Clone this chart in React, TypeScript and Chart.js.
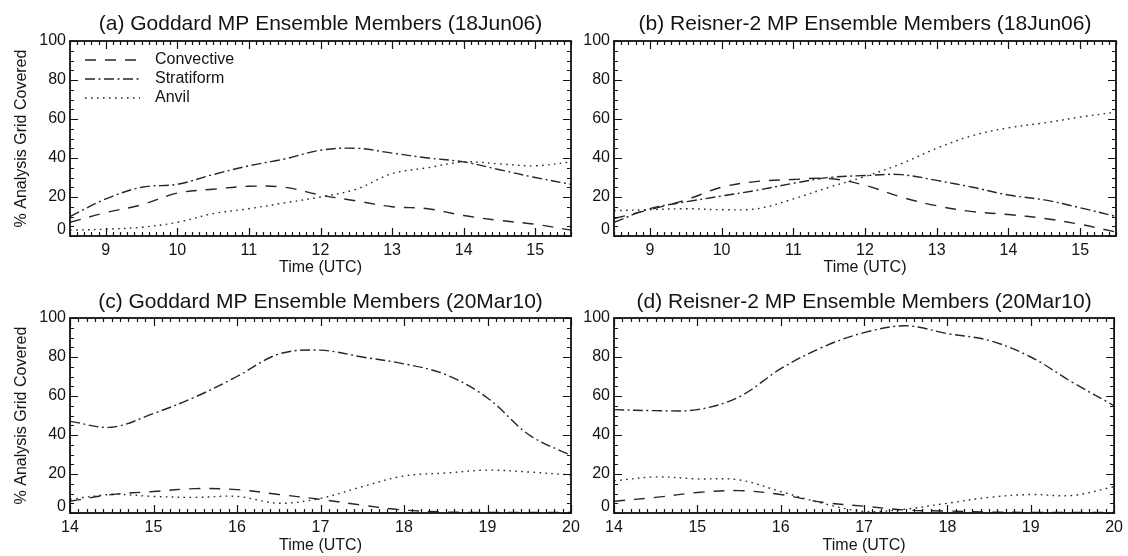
import React, { useEffect, useRef } from 'react';
import { Chart, registerables } from 'chart.js';

Chart.register(...registerables);

// ---------------- data ----------------
const HOURS_18JUN = [8.5, 9, 9.5, 10, 10.5, 11, 11.5, 12, 12.5, 13, 13.5, 14, 14.5, 15, 15.5];
const HOURS_20MAR = [14, 14.5, 15, 15.5, 16, 16.5, 17, 17.5, 18, 18.5, 19, 19.5, 20];

const X_TICKS_18JUN = [9, 10, 11, 12, 13, 14, 15];
const X_TICKS_20MAR = [14, 15, 16, 17, 18, 19, 20];
const Y_TICKS = [0, 20, 40, 60, 80, 100];

const SERIES_NAMES = ['Convective', 'Stratiform', 'Anvil'];

const A_CONVECTIVE = [7, 12, 16, 22, 24, 25.5, 25, 21, 18, 15, 14, 10.5, 8, 6, 3];
const A_STRATIFORM = [10, 19, 25, 26.5, 31.5, 36, 39.5, 44, 45, 42.5, 40, 38, 34, 30, 26.5];
const A_ANVIL = [3, 3.5, 4.5, 7, 11.5, 14, 17, 20, 24, 32, 35, 38, 37, 36, 38];

const B_CONVECTIVE = [9, 13.5, 18.5, 25, 28, 29, 29.5, 26, 20, 15.5, 12.5, 11, 9, 6, 2];
const B_STRATIFORM = [7, 14, 17.5, 20.5, 23.5, 27, 30, 31, 31.5, 28.5, 25, 21, 18.5, 14.5, 10];
const B_ANVIL = [13, 13.5, 14, 13.5, 14, 19, 25, 30.5, 37, 45, 51.5, 55.5, 58, 61, 63.5];

const C_CONVECTIVE = [6, 9.5, 11, 12.5, 12, 9.5, 7, 4, 1.5, 0.5, 0.3, 0.3, 0.3];
const C_STRATIFORM = [47, 44, 51, 59.5, 70, 81.5, 83.5, 80, 76.5, 71, 59, 40, 29.5];
const C_ANVIL = [7, 9.5, 8.5, 8, 8.5, 5, 7.5, 13.5, 19, 20.5, 22, 21, 19.5];

const D_CONVECTIVE = [6, 8, 10.5, 11.5, 9.5, 5.5, 3.5, 1.5, 1, 0.5, 0.3, 0.3, 0.3];
const D_STRATIFORM = [53, 52.5, 53, 59.5, 74, 85, 92.5, 96, 92, 88.5, 80, 67, 55];
const D_ANVIL = [16.5, 18.5, 17.5, 17, 11, 5, 0.8, 2, 5, 8, 9.5, 9, 13.5];

const TITLE_A = '(a) Goddard MP Ensemble Members (18Jun06)';
const TITLE_B = '(b) Reisner-2 MP Ensemble Members (18Jun06)';
const TITLE_C = '(c) Goddard MP Ensemble Members (20Mar10)';
const TITLE_D = '(d) Reisner-2 MP Ensemble Members (20Mar10)';
const X_TITLE = 'Time (UTC)';
const Y_TITLE = '% Analysis Grid Covered';

// ---------------- style ----------------
const FONT = "'Liberation Sans', Arial, Helvetica, sans-serif";
const TEXT = '#141414';
const LINE = '#262626';
const DASHES = [[11, 9], [10, 3.5, 2, 3.5], [1.6, 4.4]];
const ZERO_LABEL_LIFT = 3.3; // the "0" label sits a little above its tick in the original
const TITLE_SIZE = 21;
const TITLE_LINE = 1.2;

Chart.defaults.font.family = FONT;
Chart.defaults.color = TEXT;

const framePlugin = {
  id: 'idlFrame',
  afterDatasetsDraw(chart: any, _args: any, opts: any) {
    const { ctx, chartArea: a, scales } = chart;
    const x = scales.x;
    const y = scales.y;
    ctx.save();
    ctx.strokeStyle = '#111';
    ctx.lineWidth = 1.8;
    ctx.setLineDash([]);
    ctx.strokeRect(a.left, a.top, a.right - a.left, a.bottom - a.top);
    ctx.lineWidth = 1.2;
    // x ticks (major each hour, minor each 0.1 h) on bottom and top
    const nx = Math.round((x.max - x.min) * 10);
    for (let i = 0; i <= nx; i++) {
      const v = Math.round(x.min * 10 + i) / 10;
      const major = Math.abs(v - Math.round(v)) < 1e-6;
      const len = major ? 8 : 4;
      const px = Math.round(x.getPixelForValue(v)) + 0.5;
      ctx.beginPath();
      ctx.moveTo(px, a.bottom);
      ctx.lineTo(px, a.bottom - len);
      ctx.moveTo(px, a.top);
      ctx.lineTo(px, a.top + len);
      ctx.stroke();
    }
    // y ticks (major every 20, minor every 5) on left and right
    for (let v = 0; v <= 100; v += 5) {
      const major = v % 20 === 0;
      const len = major ? 8 : 4;
      const py = Math.round(y.getPixelForValue(v)) + 0.5;
      ctx.beginPath();
      ctx.moveTo(a.left, py);
      ctx.lineTo(a.left + len, py);
      ctx.moveTo(a.right, py);
      ctx.lineTo(a.right - len, py);
      ctx.stroke();
    }
    // legend
    if (opts && opts.legend) {
      ctx.font = `16px ${FONT}`;
      ctx.textBaseline = 'middle';
      ctx.textAlign = 'left';
      chart.data.datasets.forEach((ds: any, i: number) => {
        const ly = a.top + 19 + i * 19;
        ctx.strokeStyle = ds.borderColor;
        ctx.lineWidth = ds.borderWidth;
        ctx.setLineDash(ds.borderDash);
        ctx.beginPath();
        ctx.moveTo(a.left + 15, ly);
        ctx.lineTo(a.left + 70, ly);
        ctx.stroke();
        ctx.setLineDash([]);
        ctx.fillStyle = TEXT;
        ctx.fillText(ds.label, a.left + 85, ly);
      });
    }
    ctx.restore();
  },
};

type PanelProps = {
  left: number;
  top: number;
  width: number;
  height: number;
  title: string;
  hours: number[];
  series: number[][];
  xTicks: number[];
  yAxisWidth: number;
  padRight: number;
  chartTop: number;
  chartBottom: number;
  showYTitle: boolean;
  showLegend: boolean;
};

function Panel(p: PanelProps) {
  const ref = useRef<HTMLCanvasElement | null>(null);
  useEffect(() => {
    if (!ref.current) return;
    const datasets = p.series.map((vals, i) => ({
      label: SERIES_NAMES[i],
      data: p.hours.map((h, j) => ({ x: h, y: vals[j] })),
      borderColor: LINE,
      borderWidth: 1.4,
      borderDash: DASHES[i],
      pointRadius: 0,
      tension: 0.35,
      fill: false,
    }));
    const titlePadTop = 12;
    const titlePadBottom = p.chartTop - titlePadTop - TITLE_SIZE * TITLE_LINE;
    const chart = new Chart(ref.current, {
      type: 'line',
      data: { datasets },
      plugins: [framePlugin],
      options: {
        animation: false,
        responsive: false,
        devicePixelRatio: 1,
        layout: { padding: { left: 0, right: p.padRight, top: 0, bottom: 0 } },
        plugins: {
          legend: { display: false },
          tooltip: { enabled: false },
          title: {
            display: true,
            text: p.title,
            fullSize: false,
            color: TEXT,
            font: { size: TITLE_SIZE, weight: 'normal', family: FONT, lineHeight: TITLE_LINE },
            padding: { top: titlePadTop, bottom: titlePadBottom },
          },
          idlFrame: { legend: p.showLegend },
        } as any,
        scales: {
          x: {
            type: 'linear',
            min: p.hours[0],
            max: p.hours[p.hours.length - 1],
            grid: { display: false, drawTicks: false },
            border: { display: false },
            afterBuildTicks: (s: any) => {
              s.ticks = p.xTicks.map((v) => ({ value: v }));
            },
            afterFit: (s: any) => {
              s.height = p.height - p.chartBottom;
            },
            ticks: {
              font: { size: 16, family: FONT },
              color: TEXT,
              padding: 5,
              maxRotation: 0,
              autoSkip: false,
              callback: (v: any) => String(v),
            },
            title: {
              display: true,
              text: X_TITLE,
              color: TEXT,
              font: { size: 16, family: FONT },
              padding: { top: 0, bottom: 0.5 },
            },
          },
          y: {
            type: 'linear',
            min: 0,
            max: 100,
            grid: { display: false, drawTicks: false },
            border: { display: false },
            afterBuildTicks: (s: any) => {
              s.ticks = Y_TICKS.map((v) => ({ value: v === 0 ? ZERO_LABEL_LIFT : v }));
            },
            afterFit: (s: any) => {
              s.width = p.yAxisWidth;
            },
            ticks: {
              font: { size: 16, family: FONT },
              color: TEXT,
              padding: 4,
              autoSkip: false,
              callback: (v: any) => (v < 10 ? '0' : String(v)),
            },
            title: {
              display: p.showYTitle,
              text: Y_TITLE,
              color: TEXT,
              font: { size: 16, family: FONT },
              padding: { top: 12, bottom: 0 },
            },
          },
        },
      } as any,
    });
    return () => chart.destroy();
  }, []);
  return (
    <canvas
      ref={ref}
      width={p.width}
      height={p.height}
      style={{ position: 'absolute', left: p.left, top: p.top, width: p.width, height: p.height }}
    />
  );
}

export default function App() {
  return (
    <div style={{ position: 'absolute', left: 0, top: 0, width: 1128, height: 556, background: '#fff', overflow: 'hidden' }}>
      <Panel left={0} top={0} width={600} height={278} title={TITLE_A} hours={HOURS_18JUN}
        series={[A_CONVECTIVE, A_STRATIFORM, A_ANVIL]} xTicks={X_TICKS_18JUN}
        yAxisWidth={70} padRight={29} chartTop={41} chartBottom={236} showYTitle={true} showLegend={true} />
      <Panel left={575} top={0} width={553} height={278} title={TITLE_B} hours={HOURS_18JUN}
        series={[B_CONVECTIVE, B_STRATIFORM, B_ANVIL]} xTicks={X_TICKS_18JUN}
        yAxisWidth={39} padRight={12} chartTop={41} chartBottom={236} showYTitle={false} showLegend={false} />
      <Panel left={0} top={278} width={600} height={278} title={TITLE_C} hours={HOURS_20MAR}
        series={[C_CONVECTIVE, C_STRATIFORM, C_ANVIL]} xTicks={X_TICKS_20MAR}
        yAxisWidth={70} padRight={29} chartTop={40} chartBottom={235} showYTitle={true} showLegend={false} />
      <Panel left={575} top={278} width={553} height={278} title={TITLE_D} hours={HOURS_20MAR}
        series={[D_CONVECTIVE, D_STRATIFORM, D_ANVIL]} xTicks={X_TICKS_20MAR}
        yAxisWidth={39} padRight={12} chartTop={40} chartBottom={235} showYTitle={false} showLegend={false} />
    </div>
  );
}
